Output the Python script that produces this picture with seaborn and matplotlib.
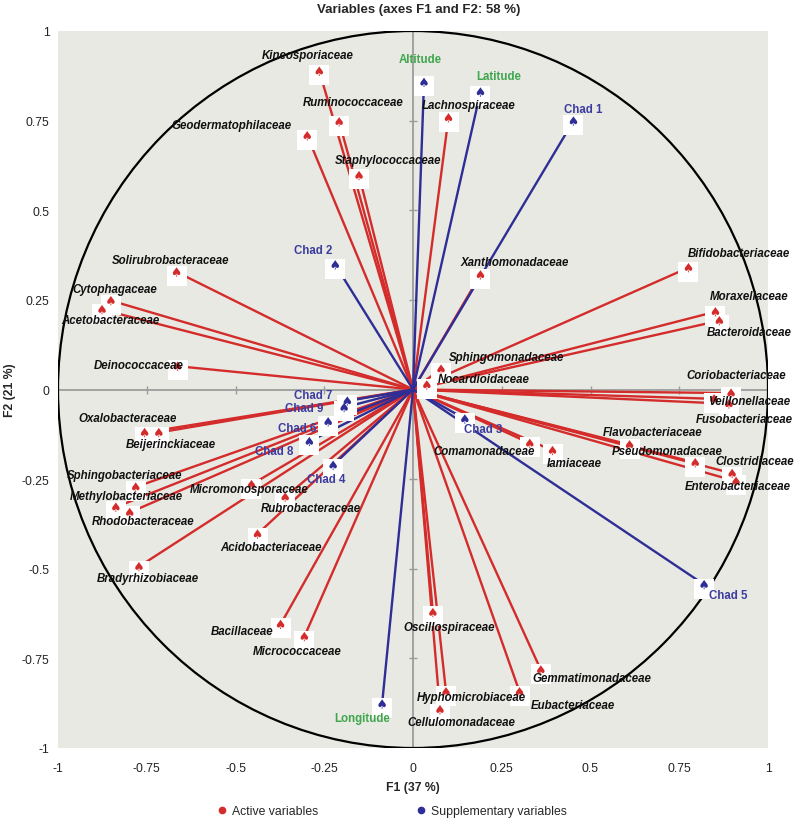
import matplotlib
matplotlib.use("Agg")
import numpy as np
import pandas as pd
import matplotlib.pyplot as plt
import seaborn as sns
from matplotlib.patches import Circle
from matplotlib.lines import Line2D
from matplotlib.transforms import offset_copy

# active variables (bacterial families): coordinates on F1 / F2
active_names = [
    "Kineosporiaceae", "Ruminococcaceae", "Geodermatophilaceae", "Staphylococcaceae",
    "Lachnospiraceae", "Xanthomonadaceae", "Bifidobacteriaceae", "Moraxellaceae",
    "Bacteroidaceae", "Coriobacteriaceae", "Veillonellaceae", "Fusobacteriaceae",
    "Flavobacteriaceae", "Pseudomonadaceae", "Clostridiaceae", "Enterobacteriaceae",
    "Comamonadaceae", "Iamiaceae", "Sphingomonadaceae", "Nocardioidaceae",
    "Solirubrobacteraceae", "Cytophagaceae", "Acetobacteraceae", "Deinococcaceae",
    "Oxalobacteraceae", "Beijerinckiaceae", "Sphingobacteriaceae", "Methylobacteriaceae",
    "Rhodobacteraceae", "Micromonosporaceae", "Rubrobacteraceae", "Acidobacteriaceae",
    "Bradyrhizobiaceae", "Bacillaceae", "Micrococcaceae", "Oscillospiraceae",
    "Hyphomicrobiaceae", "Cellulomonadaceae", "Eubacteriaceae", "Gemmatimonadaceae",
]
active_f1 = [
    -0.264, -0.208, -0.298, -0.152,
    0.100, 0.190, 0.776, 0.852,
    0.863, 0.896, 0.848, 0.890,
    0.610, 0.795, 0.899, 0.910,
    0.329, 0.393, 0.079, 0.039,
    -0.666, -0.851, -0.876, -0.663,
    -0.756, -0.716, -0.781, -0.837,
    -0.798, -0.455, -0.360, -0.438,
    -0.772, -0.373, -0.306, 0.056,
    0.093, 0.076, 0.300, 0.360,
]
active_f2 = [
    0.888, 0.747, 0.708, 0.597,
    0.758, 0.320, 0.340, 0.217,
    0.192, -0.010, -0.026, -0.040,
    -0.154, -0.204, -0.234, -0.256,
    -0.150, -0.170, 0.057, 0.013,
    0.328, 0.248, 0.223, 0.065,
    -0.120, -0.120, -0.272, -0.328,
    -0.343, -0.265, -0.300, -0.403,
    -0.494, -0.655, -0.689, -0.622,
    -0.843, -0.893, -0.843, -0.782,
]

# supplementary variables
supp_names = ["Altitude", "Latitude", "Chad 1", "Chad 2", "Chad 3", "Chad 4",
              "Chad 5", "Chad 6", "Chad 7", "Chad 8", "Chad 9", "Longitude"]
supp_f1 = [0.031, 0.190, 0.452, -0.219, 0.146, -0.225,
           0.820, -0.239, -0.185, -0.292, -0.194, -0.087]
supp_f2 = [0.857, 0.830, 0.749, 0.348, -0.082, -0.211,
           -0.544, -0.090, -0.032, -0.145, -0.050, -0.877]
geo_vars = ["Altitude", "Latitude", "Longitude"]

ticks = [-1, -0.75, -0.5, -0.25, 0, 0.25, 0.5, 0.75, 1]
tick_labels = ["-1", "-0.75", "-0.5", "-0.25", "0", "0.25", "0.5", "0.75", "1"]

# label placement, pixel offsets from the point (right, down)
label_offsets = {
    "Kineosporiaceae": (-12, -16), "Ruminococcaceae": (14, -20),
    "Geodermatophilaceae": (-76, -11), "Staphylococcaceae": (29, -15),
    "Lachnospiraceae": (20, -13), "Xanthomonadaceae": (34, -13),
    "Bifidobacteriaceae": (50, -15), "Moraxellaceae": (34, -16),
    "Bacteroidaceae": (30, 11), "Coriobacteriaceae": (5, -18),
    "Veillonellaceae": (35, 2), "Fusobacteriaceae": (15, 15),
    "Flavobacteriaceae": (23, -13), "Pseudomonadaceae": (-28, -12),
    "Clostridiaceae": (23, -12), "Enterobacteriaceae": (2, 5),
    "Comamonadaceae": (-46, 8), "Iamiaceae": (22, 13),
    "Sphingomonadaceae": (66, -12), "Nocardioidaceae": (57, -6),
    "Solirubrobacteraceae": (-6, -12), "Cytophagaceae": (4, -12),
    "Acetobacteraceae": (8, 10), "Deinococcaceae": (-39, -1),
    "Oxalobacteraceae": (-17, -15), "Beijerinckiaceae": (12, 11),
    "Sphingobacteriaceae": (-11, -12), "Methylobacteriaceae": (10, -11),
    "Rhodobacteraceae": (13, 9), "Micromonosporaceae": (-2, 4),
    "Rubrobacteraceae": (26, 11), "Acidobacteriaceae": (13, 13),
    "Bradyrhizobiaceae": (9, 11), "Bacillaceae": (-38, 7),
    "Micrococcaceae": (-7, 14), "Oscillospiraceae": (16, 15),
    "Hyphomicrobiaceae": (25, 5), "Cellulomonadaceae": (21, 12),
    "Eubacteriaceae": (53, 13), "Gemmatimonadaceae": (51, 8),
    "Altitude": (-4, -23), "Latitude": (18, -16), "Chad 1": (10, -12),
    "Chad 2": (-22, -15), "Chad 3": (18, 10), "Chad 4": (-7, 14),
    "Chad 5": (24, 10), "Chad 6": (-31, 6), "Chad 7": (-34, -6),
    "Chad 8": (-35, 10), "Chad 9": (-40, 1), "Longitude": (-20, 14),
}

RED = "#D42B2B"
BLUE = "#2E2E96"
BLUE_TXT = "#3C3CA0"
GREEN = "#3FA64E"
BG = "#E8E9E2"

df = pd.concat([
    pd.DataFrame({"name": active_names, "F1": active_f1, "F2": active_f2, "kind": "Active variables"}),
    pd.DataFrame({"name": supp_names, "F1": supp_f1, "F2": supp_f2, "kind": "Supplementary variables"}),
], ignore_index=True)
palette = {"Active variables": RED, "Supplementary variables": BLUE}

sns.set_theme(style="white")
plt.rcParams["font.family"] = ["Liberation Sans", "DejaVu Sans"]

fig = plt.figure(figsize=(7.94, 8.28), dpi=100)
ax = fig.add_axes([58 / 794, 79 / 828, 710 / 794, 717 / 828])
ax.set_facecolor(BG)
for sp in ax.spines.values():
    sp.set_visible(False)

ax.set_xlim(-1, 1)
ax.set_ylim(-1, 1)
ax.set_xticks(ticks)
ax.set_xticklabels(tick_labels)
ax.set_yticks(ticks)
ax.set_yticklabels(tick_labels)
ax.tick_params(axis="both", length=0, labelsize=8.8, colors="#222222")
ax.tick_params(axis="x", pad=10)
ax.tick_params(axis="y", pad=6)

# axes through origin with small tick marks
ax.axhline(0, color="#9C9C9C", lw=1.3, zorder=1)
ax.axvline(0, color="#9C9C9C", lw=1.3, zorder=1)
inner = [t for t in ticks if t not in (-1, 0, 1)]
ax.plot(inner, [0] * len(inner), ls="none", marker="|", ms=6, mew=1, color="#9C9C9C", zorder=1)
ax.plot([0] * len(inner), inner, ls="none", marker="_", ms=6, mew=1, color="#9C9C9C", zorder=1)

# correlation circle
ax.add_patch(Circle((0, 0), 1, fill=False, ec="black", lw=1.6, zorder=2))

# vectors from origin
for _, r in df.iterrows():
    ax.plot([0, r.F1], [0, r.F2], color=palette[r.kind], lw=1.7, zorder=2, solid_capstyle="butt")

# white boxes behind the point symbols
box_tr = offset_copy(ax.transData, fig=fig, x=0, y=-4, units="dots")
ax.scatter(df.F1, df.F2, marker="s", s=190, c="white", linewidths=0, transform=box_tr, zorder=3)
sns.scatterplot(data=df, x="F1", y="F2", hue="kind", palette=palette,
                marker=r"$\spadesuit$", s=45, linewidth=0, legend=False, ax=ax, zorder=4)
ax.set_xlabel("F1 (37 %)", fontsize=8.8, fontweight="bold", labelpad=5)
ax.set_ylabel("F2 (21 %)", fontsize=8.8, fontweight="bold", labelpad=4)

for _, r in df.iterrows():
    dx, dy = label_offsets[r["name"]]
    if r.kind == "Active variables":
        col, style = "#111111", "italic"
    else:
        col = GREEN if r["name"] in geo_vars else BLUE_TXT
        style = "normal"
    ax.annotate(r["name"], (r.F1, r.F2), xytext=(dx, -dy), textcoords="offset pixels",
                ha="center", va="center", fontsize=8.3, fontweight="bold",
                fontstyle=style, color=col, zorder=5)

fig.text(0.527, 1 - 10 / 828, "Variables (axes F1 and F2: 58 %)", ha="center", va="center",
         fontsize=9.5, fontweight="bold")

handles = [Line2D([0], [0], marker="o", ls="none", color=RED, ms=4.5),
           Line2D([0], [0], marker="o", ls="none", color=BLUE, ms=4.5)]
fig.legend(handles, ["Active variables", "Supplementary variables"], loc="center",
           bbox_to_anchor=(392 / 794, 1 - 812 / 828), ncol=2, frameon=False,
           fontsize=8.8, handlelength=0.8, handletextpad=0.4, columnspacing=8)

fig.savefig("out.png", dpi=100, facecolor="white")
